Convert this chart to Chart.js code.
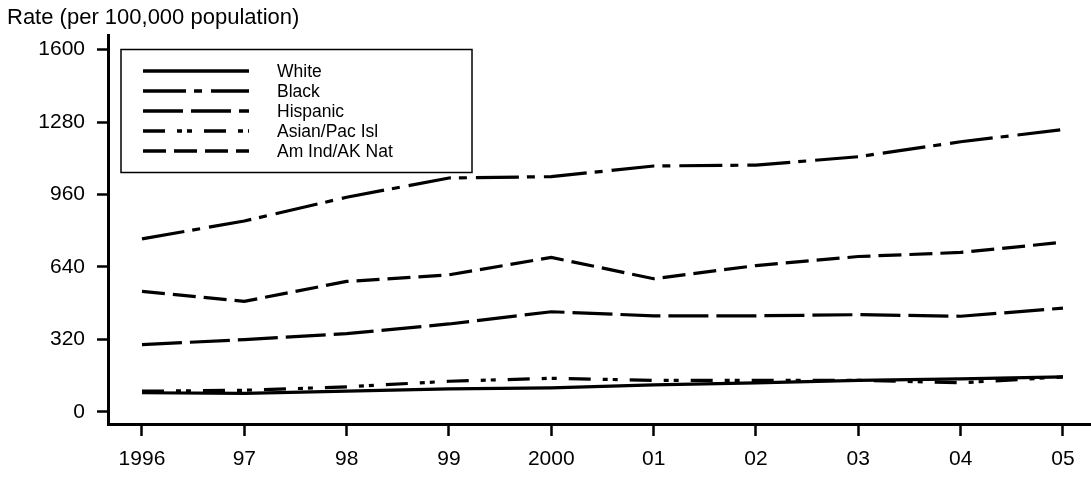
<!DOCTYPE html>
<html>
  <head>
    <meta charset="UTF-8" />
    <title>Rate per 100,000 population</title>
    <script src="https://cdn.jsdelivr.net/npm/chart.js"></script>
    <style>
      body {
        margin: 0;
        background: #ffffff;
      }
      .chart-box {
        width: 1091px;
        height: 477px;
      }
    </style>
  </head>
  <body>
    <div class="chart-box">
      <canvas id="myChart"></canvas>
    </div>

    <script>
      const years = ["1996", "97", "98", "99", "2000", "01", "02", "03", "04", "05"];
      const yTicks = [0, 320, 640, 960, 1280, 1600];

      const white = [84, 81, 91, 101, 106, 119, 128, 139, 145, 154];
      const black = [764, 843, 948, 1033, 1039, 1086, 1090, 1127, 1193, 1247];
      const hispanic = [297, 319, 345, 388, 442, 424, 424, 429, 422, 458];
      const asian = [91, 95, 110, 135, 148, 139, 139, 139, 128, 154];
      const amInd = [532, 488, 576, 605, 682, 588, 646, 686, 704, 749];

      const seriesNames = ["White", "Black", "Hispanic", "Asian/Pac Isl", "Am Ind/AK Nat"];
      const seriesValues = [white, black, hispanic, asian, amInd];
      const dashes = [[], [43, 8, 8, 9], [40, 8], [22, 12, 5, 5, 5, 12], [23, 8]];

      const font = "'Liberation Sans', Arial, sans-serif";

      const datasets = seriesNames.map((name, i) => ({
        label: name,
        data: seriesValues[i].map((v, j) => ({ x: j, y: v })),
        borderColor: "#000",
        borderWidth: 3.2,
        borderDash: dashes[i],
        pointRadius: 0,
        tension: 0,
        fill: false
      }));

      // legend box inside the plot, like the original figure
      const boxLegend = {
        id: "boxLegend",
        afterDatasetsDraw(chart) {
          const ctx = chart.ctx;
          ctx.save();
          ctx.fillStyle = "#fff";
          ctx.fillRect(121, 49.5, 351, 123);
          ctx.strokeStyle = "#000";
          ctx.lineWidth = 1.5;
          ctx.strokeRect(121, 49.5, 351, 123);
          ctx.font = "17.5px " + font;
          ctx.textBaseline = "middle";
          const rows = [71, 91, 111, 131, 151];
          chart.data.datasets.forEach((ds, i) => {
            ctx.setLineDash(ds.borderDash);
            ctx.lineWidth = 3.5;
            ctx.beginPath();
            ctx.moveTo(143, rows[i]);
            ctx.lineTo(249, rows[i]);
            ctx.stroke();
            ctx.setLineDash([]);
            ctx.fillStyle = "#000";
            ctx.fillText(ds.label, 277, rows[i] + 1);
          });
          ctx.restore();
        }
      };

      const ctx = document.getElementById("myChart").getContext("2d");
      new Chart(ctx, {
        type: "line",
        data: { datasets: datasets },
        plugins: [boxLegend],
        options: {
          responsive: true,
          maintainAspectRatio: false,
          animation: false,
          layout: { padding: { left: 7, right: 0, top: 0, bottom: 0 } },
          plugins: {
            legend: { display: false },
            tooltip: { enabled: false },
            title: {
              display: true,
              text: "Rate (per 100,000 population)",
              align: "start",
              color: "#000",
              font: { family: font, size: 22, weight: "normal" },
              padding: { top: 5, bottom: 4 }
            }
          },
          scales: {
            x: {
              type: "linear",
              min: -0.332,
              max: 9.274,
              afterBuildTicks: (scale) => {
                scale.ticks = years.map((y, i) => ({ value: i }));
              },
              afterFit: (scale) => { scale.height = 53; },
              grid: { drawOnChartArea: false, drawTicks: true, tickLength: 12, tickWidth: 2.5, color: "#000" },
              border: { display: true, color: "#000", width: 3 },
              ticks: {
                color: "#000",
                padding: 11,
                maxRotation: 0,
                autoSkip: false,
                font: { family: font, size: 21 },
                callback: (v) => years[v]
              }
            },
            y: {
              min: -54,
              max: 1663,
              afterBuildTicks: (scale) => {
                scale.ticks = yTicks.map((v) => ({ value: v }));
              },
              afterFit: (scale) => { scale.width = 101; },
              grid: { drawOnChartArea: false, drawTicks: true, tickLength: 11, tickWidth: 2.5, color: "#000" },
              border: { display: true, color: "#000", width: 3 },
              ticks: {
                color: "#000",
                padding: 12,
                font: { family: font, size: 21 },
                callback: (v) => String(v)
              }
            }
          }
        }
      });
    </script>
  </body>
</html>
